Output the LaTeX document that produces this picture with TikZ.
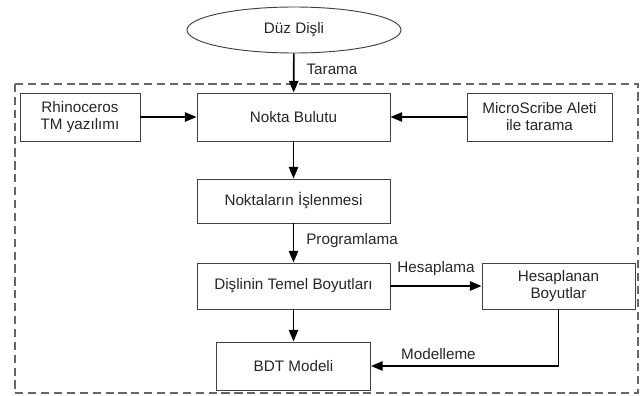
\documentclass[tikz,border=0pt]{standalone}
\usepackage{fontspec}
\setmainfont{Liberation Sans}
\usetikzlibrary{arrows.meta,shapes.geometric}

\tikzset{
  box/.style={draw=black!75, line width=0.8pt, fill=white, inner sep=0pt,
    align=center, text=black!85, font=\fontsize{13}{14.5}\selectfont},
  flow/.style={line width=1.4pt, -{Triangle[length=10pt,width=8pt]}},
  lbl/.style={inner sep=0pt, text=black!85, font=\fontsize{13}{14.5}\selectfont},
}

\begin{document}
\begin{tikzpicture}[x=0.03cm,y=-0.03cm]
\useasboundingbox (0,0) rectangle (642,396);
% dashed frame
\draw[black!60, line width=1.6pt, dash pattern=on 7pt off 4pt] (15,84) rectangle (638,393);
% nodes
\node[box, ellipse, minimum width=6.42cm, minimum height=1.38cm] (duz) at (294,30) {Düz Dişli};
\node[box, minimum width=3.6cm, minimum height=1.44cm] (rhino) at (80,117) {Rhinoceros\\TM yazılımı};
\node[box, minimum width=5.79cm, minimum height=1.44cm] (nokta) at (293.5,117) {Nokta Bulutu};
\node[box, minimum width=4.35cm, minimum height=1.44cm] (micro) at (539.5,117) {MicroScribe Aleti\\ile tarama};
\node[box, minimum width=5.79cm, minimum height=1.32cm] (isle) at (293.5,201) {Noktaların İşlenmesi};
\node[box, minimum width=5.79cm, minimum height=1.38cm] (temel) at (293.5,286) {Dişlinin Temel Boyutları};
\node[box, minimum width=4.59cm, minimum height=1.38cm] (hesap) at (558.5,286) {Hesaplanan\\Boyutlar};
\node[box, minimum width=4.62cm, minimum height=1.44cm] (bdt) at (293.5,366) {BDT Modeli};
% arrows
\draw[flow] (duz) -- node[lbl, anchor=west, xshift=12*0.03cm, pos=0.4] {Tarama} (nokta);
\draw[flow] (rhino) -- (nokta);
\draw[flow] (micro) -- (nokta);
\draw[flow] (nokta) -- (isle);
\draw[flow] (isle) -- node[lbl, anchor=west, xshift=12*0.03cm, pos=0.45] {Programlama} (temel);
\draw[flow] (temel) -- node[lbl, above=8pt] {Hesaplama} (hesap);
\draw[flow] (temel) -- (bdt);
\draw[flow] (hesap) |- node[lbl, above=5pt, pos=0.82] {Modelleme} (bdt);
\end{tikzpicture}
\end{document}
